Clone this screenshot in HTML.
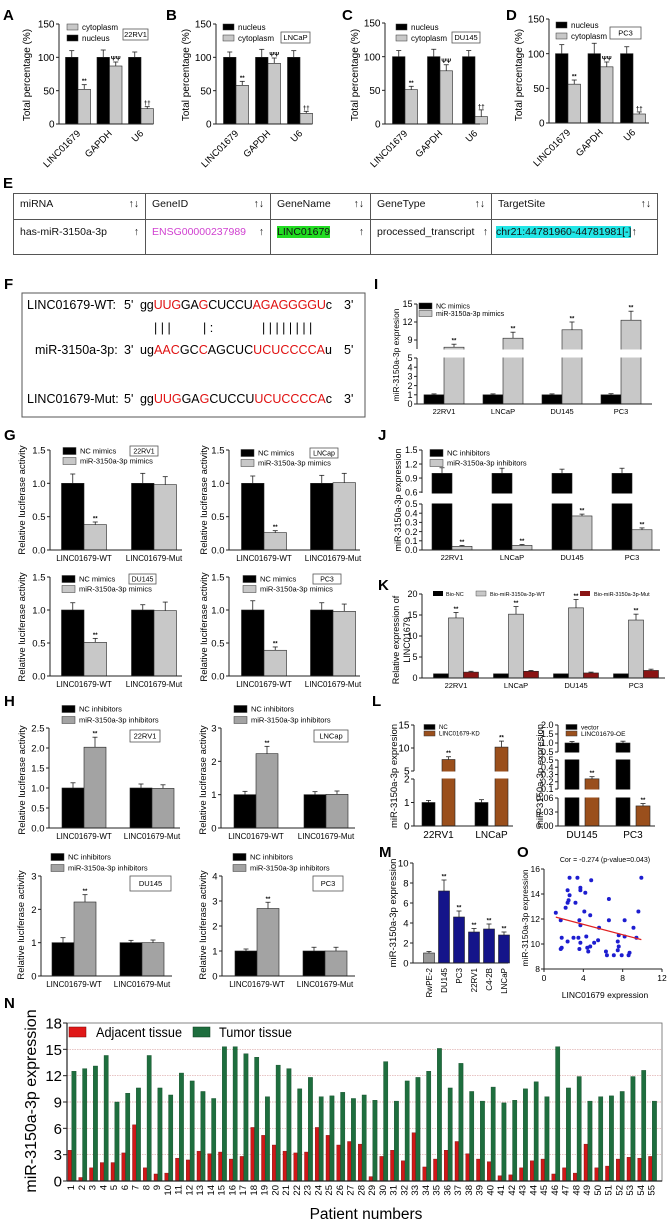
<!DOCTYPE html>
<html><head><meta charset="utf-8">
<style>
html,body{margin:0;padding:0;background:#fff;}
body{width:671px;height:1224px;position:relative;overflow:hidden;font-family:"Liberation Sans",Arial,sans-serif;}
svg{position:absolute;left:0;top:0;}
.tbl{position:absolute;left:13px;top:193px;width:645px;height:62px;border:1px solid #555;box-sizing:border-box;font-size:10.5px;color:#111;}
.cell{position:absolute;border-right:1px solid #555;box-sizing:border-box;padding:4px 6px;}
.hrow{top:0;height:26px;border-bottom:1px solid #555;}
.drow{top:26px;height:34px;padding-top:6px;}
.arr{position:absolute;right:6px;top:4px;}
.drow .arr{top:6px;}
</style></head>
<body>
<div class="tbl">
  <div class="cell hrow" style="left:0;width:132px">miRNA<span class="arr">↑↓</span></div>
  <div class="cell hrow" style="left:132px;width:125px">GeneID<span class="arr">↑↓</span></div>
  <div class="cell hrow" style="left:257px;width:100px">GeneName<span class="arr">↑↓</span></div>
  <div class="cell hrow" style="left:357px;width:121px">GeneType<span class="arr">↑↓</span></div>
  <div class="cell hrow" style="left:478px;width:165px;border-right:none">TargetSite<span class="arr">↑↓</span></div>
  <div class="cell drow" style="left:0;width:132px">has-miR-3150a-3p<span class="arr">↑</span></div>
  <div class="cell drow" style="left:132px;width:125px;color:#d040d0">ENSG00000237989<span class="arr" style="color:#111">↑</span></div>
  <div class="cell drow" style="left:257px;width:100px"><span style="background:#22dd22">LINC01679</span><span class="arr">↑</span></div>
  <div class="cell drow" style="left:357px;width:121px">processed_transcript<span class="arr" style="right:3px">↑</span></div>
  <div class="cell drow" style="left:478px;width:165px;border-right:none;padding-left:4px"><span style="background:#22e6e6">chr21:44781960-44781981[-]</span>↑</div>
</div>

<svg id="fig" width="671" height="1224" viewBox="0 0 671 1224" font-family="Liberation Sans, Arial, sans-serif">
  <g font-weight="bold" font-size="15">
    <text x="3" y="20">A</text>
    <text x="166" y="20">B</text>
    <text x="342" y="20">C</text>
    <text x="506" y="20">D</text>
    <text x="3" y="188">E</text>
    <text x="4" y="289">F</text>
    <text x="374" y="289">I</text>
    <text x="4" y="440">G</text>
    <text x="378" y="440">J</text>
    <text x="378" y="590">K</text>
    <text x="4" y="706">H</text>
    <text x="372" y="706">L</text>
    <text x="379" y="857">M</text>
    <text x="517" y="857">O</text>
    <text x="4" y="1008">N</text>
  </g>
  <g font-size="12.5">
    <rect x="22" y="293" width="343" height="124" fill="none" stroke="#555"/>
    <text x="27" y="309">LINC01679-WT:</text>
    <text x="124" y="309">5'</text>
    <text x="140" y="309" textLength="192">gg<tspan fill="#e01010">UUG</tspan>GA<tspan fill="#e01010">G</tspan>CUCCU<tspan fill="#e01010">AGAGGGGU</tspan>c</text>
    <text x="344" y="309">3'</text>
    <text x="154" y="332">| | |</text>
    <text x="203" y="332">| :</text>
    <text x="262" y="332">| | | | |  | | |</text>
    <text x="35" y="354">miR-3150a-3p:</text>
    <text x="124" y="354">3'</text>
    <text x="140" y="354" textLength="192">ug<tspan fill="#e01010">AAC</tspan>GC<tspan fill="#e01010">C</tspan>AGCUC<tspan fill="#e01010">UCUCCCCA</tspan>u</text>
    <text x="344" y="354">5'</text>
    <text x="27" y="403">LINC01679-Mut:</text>
    <text x="124" y="403">5'</text>
    <text x="140" y="403" textLength="192">gg<tspan fill="#e01010">UUG</tspan>GA<tspan fill="#e01010">G</tspan>CUCCU<tspan fill="#e01010">UCUCCCCA</tspan>c</text>
    <text x="344" y="403">3'</text>
  </g>
</svg>
<script>
// ---------- DATA ----------
const catsTop=['LINC01679','GAPDH','U6'];
const aNuc=[100,100,100], aNucErr=[10,11,8], aCyt=[52,87,23], aCytErr=[7,6,3];
const bNuc=[100,100,100], bNucErr=[8,12,10], bCyt=[58,91,16], bCytErr=[6,8,3];
const cNuc=[100,100,100], cNucErr=[9,11,9], cCyt=[51,79,11], cCytErr=[5,9,10];
const dNuc=[100,100,100], dNucErr=[13,15,10], dCyt=[56,81,13], dCytErr=[6,7,3];
const cytMarks=['**','ΨΨ','††'];
const ticksTop=[0,50,100,150];

const catsLuc=['LINC01679-WT','LINC01679-Mut'];
const g1NC=[1,1], g1NCErr=[0.14,0.15], g1Mi=[0.38,0.98], g1MiErr=[0.04,0.12];
const g2NC=[1,1], g2NCErr=[0.11,0.12], g2Mi=[0.26,1.01], g2MiErr=[0.03,0.14];
const g3NC=[1,1], g3NCErr=[0.11,0.08], g3Mi=[0.51,0.99], g3MiErr=[0.06,0.13];
const g4NC=[1,1], g4NCErr=[0.14,0.11], g4Mi=[0.39,0.98], g4MiErr=[0.05,0.11];
const ticksG=[0,0.5,1.0,1.5];
const h1NC=[1,1], h1NCErr=[0.13,0.1], h1In=[2.02,0.99], h1InErr=[0.25,0.09];
const h2NC=[1,1], h2NCErr=[0.1,0.09], h2In=[2.23,1.01], h2InErr=[0.22,0.1];
const h3NC=[1,1], h3NCErr=[0.15,0.07], h3In=[2.22,1.0], h3InErr=[0.22,0.08];
const h4NC=[1,1], h4NCErr=[0.08,0.15], h4In=[2.7,1.0], h4InErr=[0.25,0.15];
const ticksH1=[0,0.5,1.0,1.5,2.0,2.5], ticksH2=[0,1,2,3], ticksH4=[0,1,2,3,4];

const cellLines=['22RV1','LNCaP','DU145','PC3'];
const iNC=[1,1,1,1], iNCErr=[0.1,0.1,0.1,0.12], iMi=[7.8,9.3,10.7,12.3], iMiErr=[0.5,1.0,1.3,1.5];
const ticksI=[0,1,2,3,4,5,9,12,15];
const jNC=[1,1,1,1], jNCErr=[0.12,0.11,0.09,0.11], jIn=[0.04,0.05,0.37,0.22], jInErr=[0.01,0.01,0.02,0.02];
const ticksJ=[0,0.1,0.2,0.3,0.4,0.5,0.6,0.9,1.2,1.5];
const kNC=[1,1,1,1], kWT=[14.3,15.2,16.7,13.8], kWTErr=[1.3,1.8,2.0,1.4], kMut=[1.4,1.6,1.2,1.8], kMutErr=[0.2,0.2,0.2,0.3];
const ticksK=[0,5,10,15,20];

const lCatsA=['22RV1','LNCaP'], lNC=[1,1], lNCErr=[0.09,0.12], lKD=[7.5,10.2], lKDErr=[0.6,1.3];
const ticksLA=[0,1,2,5,10,15];
const lCatsB=['DU145','PC3'], lVec=[1,1], lVecErr=[0.08,0.1], lOE=[0.24,0.043], lOEErr=[0.03,0.005];
const ticksLB=[0,0.03,0.06,0.1,0.2,0.3,0.4,0.5,1.0,1.5,2.0];
const ticksLBlabels=['0.00','0.03','0.06','0.1','0.2','0.3','0.4','0.5','1.0','1.5','2.0'];

const mCats=['RwPE-2','DU145','PC3','22RV1','C4-2B','LNCaP'];
const mVals=[1.0,7.2,4.6,3.1,3.4,2.8], mErr=[0.15,1.1,0.6,0.35,0.5,0.3];
const ticksM=[0,2,4,6,8,10];

const oX=[1.2,1.7,1.8,1.8,1.7,2.2,2.4,2.5,2.6,2.6,2.4,3.0,2.4,3.2,3.4,3.7,3.7,3.6,3.7,3.5,3.7,3.6,4.2,4.3,4.1,4.4,4.5,4.7,4.8,4.7,5.1,5.5,5.6,6.3,6.4,6.6,6.6,7.1,7.5,7.6,7.6,7.5,7.9,8.2,8.2,8.6,8.7,9.1,9.4,9.6,9.9];
const oY=[12.5,11.9,10.5,9.7,9.6,12.9,13.3,13.5,13.9,15.3,14.3,10.5,10.2,13.3,15.3,14.5,14.3,11.9,11.5,10.5,10.1,9.6,14.1,10.6,12.6,9.7,9.4,12.3,15.1,9.8,10.1,10.3,11.3,9.4,9.1,13.6,11.9,9.1,10.2,9.8,10.7,9.5,9.1,11.9,10.6,9.1,9.3,11.3,10.5,12.6,15.3];
const oFitX=[1.2,9.9], oFitY=[12.15,10.35];
const ticksOX=[0,4,8,12], ticksOY=[8,10,12,14,16];

const nTumor=[12.5,12.8,13.1,14.3,9.0,10.0,10.6,14.3,10.6,9.8,12.3,11.4,10.2,9.4,15.3,15.3,14.5,14.1,9.6,13.2,12.8,10.5,11.8,9.6,9.7,10.1,9.4,9.8,9.2,13.6,9.1,11.4,11.8,12.5,15.1,10.6,13.4,10.2,9.1,10.7,8.9,9.2,10.5,11.3,9.6,15.3,10.6,11.9,9.1,9.6,9.7,10.2,11.9,12.6,9.1];
const nAdj=[3.5,0.4,1.5,2.1,2.1,3.2,6.4,1.5,0.8,0.9,2.6,2.4,3.4,3.1,3.3,2.5,2.8,6.1,5.2,4.1,3.4,3.2,3.3,6.1,5.2,4.1,4.5,4.2,0.5,2.8,3.5,2.3,5.5,1.6,2.5,3.5,4.5,3.1,2.5,2.2,0.6,0.7,1.5,2.3,2.5,0.8,1.5,0.9,4.2,1.5,1.7,2.5,2.7,2.6,2.8];
const ticksN=[0,3,6,9,12,15,18];

// ---------- HELPERS ----------
const NS='http://www.w3.org/2000/svg';
const svg=document.getElementById('fig');
function mk(tag,name,attrs,parent){
  const e=document.createElementNS(NS,tag);
  
  
  for(const k in attrs) e.setAttribute(k,attrs[k]);
  (parent||svg).appendChild(e);
  return e;
}
function txt(name,x,y,s,fs,extra,parent){
  const a=Object.assign({x:x,y:y,'font-size':fs},extra||{});
  const t=mk('text',name,a,parent);
  t.textContent=s;
  return t;
}
function makeScale(segs){
  return function(v){
    for(let i=0;i<segs.length;i++){
      const s=segs[i];
      if(v<s.v0) return s.p0;
      if(v<=s.v1) return s.p0+(v-s.v0)/(s.v1-s.v0)*(s.p1-s.p0);
    }
    const s=segs[segs.length-1];
    return s.p0+(v-s.v0)/(s.v1-s.v0)*(s.p1-s.p0);
  };
}
function fmt(v,dec){return dec==null?String(v):v.toFixed(dec);}

function panel(P){
  const g=mk('g',P.name,{});
  const y=makeScale(P.segs);
  const n=P.series.length;
  P.cats.forEach((c,i)=>{
    const cx=P.c0+i*P.sp;
    P.series.forEach((s,k)=>{
      const x=cx+(k-n/2)*(P.bw+P.gap)+P.gap/2;
      const v=s.vals[i];
      const col=Array.isArray(s.color)?s.color[i]:s.color;
      mk('rect',P.name+'-bar-'+s.key+'-'+i,{x:x,y:y(v),width:P.bw,height:y(P.segs[0].v0)-y(v),fill:col,stroke:s.stroke||'#222','stroke-width':0.6},g);
      let top=y(v);
      if(s.errs){
        const t=y(v+s.errs[i]);
        mk('line',P.name+'-err-'+s.key+'-'+i,{x1:x+P.bw/2,x2:x+P.bw/2,y1:y(v),y2:t,stroke:'#222','stroke-width':0.8},g);
        mk('line',P.name+'-cap-'+s.key+'-'+i,{x1:x+P.bw/2-2.5,x2:x+P.bw/2+2.5,y1:t,y2:t,stroke:'#222','stroke-width':0.8},g);
        top=t;
      }
      if(s.marks&&s.marks[i]) txt(P.name+'-mark-'+i,x+P.bw/2,top-1.5,s.marks[i],P.mfs||6,{'text-anchor':'middle','font-weight':'bold'},g);
    });
    const lx=P.labelX?P.labelX(cx):cx;
    if(P.rot===45){
      txt(P.name+'-xlabel-'+i,lx+3,y(P.segs[0].v0)+10,c,P.xfs,{'text-anchor':'end',transform:'rotate(-45 '+(lx+3)+' '+(y(P.segs[0].v0)+10)+')'},g);
    } else if(P.rot===90){
      txt(P.name+'-xlabel-'+i,lx+3,y(P.segs[0].v0)+5,c,P.xfs,{'text-anchor':'end',transform:'rotate(-90 '+(lx+3)+' '+(y(P.segs[0].v0)+5)+')'},g);
    } else {
      txt(P.name+'-xlabel-'+i,lx,y(P.segs[0].v0)+P.xdy,c,P.xfs,{'text-anchor':'middle'},g);
    }
  });
  for(let i=1;i<P.segs.length;i++){
    mk('rect',P.name+'-axis-break-'+i,{x:P.ax-1,y:P.segs[i].p0+0.5,width:P.end-P.ax+2,height:P.segs[i-1].p1-P.segs[i].p0-1,fill:'#fff'},g);
  }
  P.segs.forEach((s,i)=>{
    mk('line',P.name+'-y-axis-'+i,{x1:P.ax,x2:P.ax,y1:s.p0,y2:s.p1,stroke:'#222','stroke-width':1},g);
  });
  P.ticks.forEach((t,i)=>{
    let yy=y(t);
    if(P.tickPix&&P.tickPix[i]!=null) yy=P.tickPix[i];
    mk('line',P.name+'-ytick-'+i,{x1:P.ax-3,x2:P.ax,y1:yy,y2:yy,stroke:'#222'},g);
    const lab=P.tickLabels?P.tickLabels[i]:fmt(t,P.dec);
    txt(P.name+'-ytick-label-'+i,P.ax-4.5,yy+P.yfs*0.36,lab,P.yfs,{'text-anchor':'end'},g);
  });
  mk('line',P.name+'-x-axis',{x1:P.ax,x2:P.end,y1:y(P.segs[0].v0),y2:y(P.segs[0].v0),stroke:'#222','stroke-width':1},g);
  if(P.title){
    P.title.forEach((tl,j)=>{
      txt(P.name+'-y-title-'+j,tl.x,tl.y,tl.s,tl.fs,{'text-anchor':'middle',transform:'rotate(-90 '+tl.x+' '+tl.y+')'},g);
    });
  }
  return g;
}
function legend(name,x,y,rowH,items,fs,sw,sh){
  const g=mk('g',name,{});
  items.forEach((it,i)=>{
    mk('rect',name+'-swatch-'+i,{x:x,y:y+i*rowH-sh/2,width:sw,height:sh,fill:it.color,stroke:'#333','stroke-width':0.5},g);
    txt(name+'-entry-'+i,x+sw+4,y+i*rowH+fs*0.36,it.label,fs,{},g);
  });
  return g;
}
function tag(name,x,y,w,h,s,fs){
  mk('rect',name+'-box',{x:x,y:y,width:w,height:h,fill:'#fff',stroke:'#555','stroke-width':0.8});
  txt(name,x+w/2,y+h/2+fs*0.36,s,fs,{'text-anchor':'middle'});
}
const BLK='#000', LG='#c8c8c8', DG='#a3a3a3', BR='#9a4f1c', DR='#8a1414', NAVY='#14148a';

// ---------- TOP ROW A-D ----------
const topCfg=[
 {n:'a',ax:59,end:153,c0:78,sp:31.5,p150:24,p0:124,nuc:aNuc,nE:aNucErr,cy:aCyt,cE:aCytErr,tx:30,leg:[67,27,true],box:[123,29,25,11,'22RV1']},
 {n:'b',ax:216,end:312,c0:236,sp:32,p150:24,p0:124,nuc:bNuc,nE:bNucErr,cy:bCyt,cE:bCytErr,tx:189,leg:[223,27,false],box:[281,32,29,11,'LNCaP']},
 {n:'c',ax:385,end:480,c0:405,sp:35,p150:23,p0:124,nuc:cNuc,nE:cNucErr,cy:cCyt,cE:cCytErr,tx:358,leg:[396,27,false],box:[452,32,28,11,'DU145']},
 {n:'d',ax:549,end:649,c0:568,sp:32.5,p150:19,p0:123,nuc:dNuc,nE:dNucErr,cy:dCyt,cE:dCytErr,tx:522,leg:[556,25,false],box:[610,27,31,12,'PC3']}
];
topCfg.forEach(c=>{
  panel({name:'panel-'+c.n,ax:c.ax,end:c.end,c0:c.c0,sp:c.sp,bw:12.5,gap:0,segs:[{v0:0,p0:c.p0,v1:150,p1:c.p150}],
    cats:catsTop,ticks:ticksTop,yfs:10,xfs:9.5,rot:45,mfs:6,
    series:[{key:'nucleus',vals:c.nuc,errs:c.nE,color:BLK},{key:'cytoplasm',vals:c.cy,errs:c.cE,color:LG,marks:cytMarks}],
    title:[{x:c.tx,y:75,s:'Total percentage (%)',fs:10}]});
  const items=c.leg[2]?[{label:'cytoplasm',color:LG},{label:'nucleus',color:BLK}]:[{label:'nucleus',color:BLK},{label:'cytoplasm',color:LG}];
  legend('legend-'+c.n,c.leg[0],c.leg[1],11,items,8,11,6);
  tag('cell-tag-'+c.n,c.box[0],c.box[1],c.box[2],c.box[3],c.box[4],7.5);
});

// ---------- G ----------
const gCfg=[
 {n:'g1',ax:50,end:182,c0:84,sp:70,p0:550,p1:450,nc:g1NC,ncE:g1NCErr,mi:g1Mi,miE:g1MiErr,tx:25,ty:500,leg:[63,451],box:[130,446,28,10,'22RV1']},
 {n:'g2',ax:229,end:360,c0:264,sp:69,p0:550,p1:450,nc:g2NC,ncE:g2NCErr,mi:g2Mi,miE:g2MiErr,tx:207,ty:500,leg:[241,453],box:[310,448,28,10,'LNCap']},
 {n:'g3',ax:50,end:182,c0:84,sp:70,p0:676,p1:577,nc:g3NC,ncE:g3NCErr,mi:g3Mi,miE:g3MiErr,tx:25,ty:627,leg:[62,579],box:[129,574,27,10,'DU145']},
 {n:'g4',ax:229,end:360,c0:264,sp:69,p0:676,p1:577,nc:g4NC,ncE:g4NCErr,mi:g4Mi,miE:g4MiErr,tx:207,ty:627,leg:[243,579],box:[313,574,28,10,'PC3']}
];
gCfg.forEach(c=>{
  panel({name:'panel-'+c.n,ax:c.ax,end:c.end,c0:c.c0,sp:c.sp,bw:22.5,gap:0,segs:[{v0:0,p0:c.p0,v1:1.5,p1:c.p1}],
    cats:catsLuc,ticks:ticksG,dec:1,yfs:9.5,xfs:8,xdy:11,mfs:6,
    series:[{key:'nc',vals:c.nc,errs:c.ncE,color:BLK},{key:'mimic',vals:c.mi,errs:c.miE,color:LG,marks:['**','']}],
    title:[{x:c.tx,y:c.ty,s:'Relative luciferase activity',fs:9.5}]});
  legend('legend-'+c.n,c.leg[0],c.leg[1],10,[{label:'NC mimics',color:BLK},{label:'miR-3150a-3p mimics',color:LG}],7.5,13,7);
  tag('cell-tag-'+c.n,c.box[0],c.box[1],c.box[2],c.box[3],c.box[4],7);
});

// ---------- H ----------
const hCfg=[
 {n:'h1',ax:49,end:180,c0:84,sp:68,p0:828,p1:728,top:2.5,ticks:ticksH1,dec:1,nc:h1NC,ncE:h1NCErr,inh:h1In,inE:h1InErr,tx:25,ty:780,leg:[62,709],box:[130,730,30,12,'22RV1']},
 {n:'h2',ax:221,end:355,c0:256,sp:70,p0:828,p1:728,top:3,ticks:ticksH2,dec:null,nc:h2NC,ncE:h2NCErr,inh:h2In,inE:h2InErr,tx:206,ty:780,leg:[234,709],box:[314,730,34,12,'LNCap']},
 {n:'h3',ax:41,end:172,c0:74,sp:68,p0:976,p1:876,top:3,ticks:ticksH2,dec:null,nc:h3NC,ncE:h3NCErr,inh:h3In,inE:h3InErr,tx:24,ty:925,leg:[51,857],box:[130,876,41,15,'DU145']},
 {n:'h4',ax:222,end:355,c0:257,sp:68,p0:976,p1:876,top:4,ticks:ticksH4,dec:null,nc:h4NC,ncE:h4NCErr,inh:h4In,inE:h4InErr,tx:206,ty:925,leg:[233,857],box:[313,876,30,15,'PC3']}
];
hCfg.forEach(c=>{
  panel({name:'panel-'+c.n,ax:c.ax,end:c.end,c0:c.c0,sp:c.sp,bw:22,gap:0,segs:[{v0:0,p0:c.p0,v1:c.top,p1:c.p1}],
    cats:catsLuc,ticks:c.ticks,dec:c.dec,yfs:9.5,xfs:8,xdy:11,mfs:6,
    series:[{key:'nc',vals:c.nc,errs:c.ncE,color:BLK},{key:'inhibitor',vals:c.inh,errs:c.inE,color:DG,marks:['**','']}],
    title:[{x:c.tx,y:c.ty,s:'Relative luciferase activity',fs:9.5}]});
  legend('legend-'+c.n,c.leg[0],c.leg[1],11,[{label:'NC inhibitors',color:BLK},{label:'miR-3150a-3p inhibitors',color:DG}],7.5,13,7);
  tag('cell-tag-'+c.n,c.box[0],c.box[1],c.box[2],c.box[3],c.box[4],7.5);
});

// ---------- I ----------
panel({name:'panel-i',ax:417,end:652,c0:444,sp:59,bw:20,gap:0,
  segs:[{v0:0,p0:404,v1:5,p1:358},{v0:7.5,p0:349,v1:15,p1:304}],
  cats:cellLines,ticks:ticksI,yfs:9,xfs:7.5,xdy:10,mfs:6,
  series:[{key:'nc',vals:iNC,errs:iNCErr,color:BLK},{key:'mimic',vals:iMi,errs:iMiErr,color:LG,marks:['**','**','**','**']}],
  title:[{x:399,y:355,s:'miR-3150a-3p expresion',fs:8.5}]});
legend('legend-i',419,306,7.5,[{label:'NC mimics',color:BLK},{label:'miR-3150a-3p mimics',color:LG}],7,13,6);

// ---------- J ----------
panel({name:'panel-j',ax:422,end:660,c0:452,sp:60,bw:20,gap:0,
  segs:[{v0:0,p0:550,v1:0.5,p1:504},{v0:0.58,p0:493,v1:1.5,p1:450}],
  cats:cellLines,ticks:ticksJ,dec:1,yfs:9,xfs:7.5,xdy:10,mfs:6,
  series:[{key:'nc',vals:jNC,errs:jNCErr,color:BLK},{key:'inhibitor',vals:jIn,errs:jInErr,color:LG,marks:['**','**','**','**']}],
  title:[{x:401,y:500,s:'miR-3150a-3p expression',fs:9}]});
legend('legend-j',430,453,10,[{label:'NC inhibitors',color:BLK},{label:'miR-3150a-3p inhibitors',color:LG}],7.5,13,7);

// ---------- K ----------
panel({name:'panel-k',ax:422,end:665,c0:456,sp:60,bw:15,gap:0,
  segs:[{v0:0,p0:678,v1:20,p1:594}],
  cats:cellLines,ticks:ticksK,yfs:9,xfs:7.5,xdy:10,mfs:6,
  series:[{key:'nc',vals:kNC,errs:null,color:BLK},{key:'wt',vals:kWT,errs:kWTErr,color:LG,marks:['**','**','**','**']},{key:'mut',vals:kMut,errs:kMutErr,color:DR}],
  title:[{x:399,y:640,s:'Relative expression of',fs:9},{x:410,y:640,s:'LINC01679',fs:9}]});
mk('rect','legend-k-swatch-0',{x:433,y:591,width:10,height:5,fill:BLK});
txt('legend-k-entry-0',446,596,'Bio-NC',5.5,{});
mk('rect','legend-k-swatch-1',{x:476,y:591,width:10,height:5,fill:LG,stroke:'#333','stroke-width':0.4});
txt('legend-k-entry-1',490,596,'Bio-miR-3150a-3p-WT',5.5,{});
mk('rect','legend-k-swatch-2',{x:580,y:591,width:10,height:5,fill:DR});
txt('legend-k-entry-2',594,596,'Bio-miR-3150a-3p-Mut',5.5,{});

// ---------- L ----------
panel({name:'panel-l-left',ax:414,end:513,c0:438.5,sp:53,bw:13,gap:7,
  segs:[{v0:0,p0:826,v1:2,p1:779},{v0:5,p0:771,v1:15,p1:725}],
  cats:lCatsA,ticks:ticksLA,yfs:10,xfs:10,xdy:12,mfs:6,
  series:[{key:'nc',vals:lNC,errs:lNCErr,color:BLK},{key:'kd',vals:lKD,errs:lKDErr,color:BR,marks:['**','**']}],
  title:[{x:397,y:776,s:'miR-3150a-3p expresion',fs:9.5}]});
legend('legend-l-left',424,727,6.5,[{label:'NC',color:BLK},{label:'LINC01679-KD',color:BR}],6,11,5);
panel({name:'panel-l-right',ax:558,end:655,c0:582,sp:51,bw:14,gap:6,
  segs:[{v0:0,p0:826,v1:0.06,p1:798},{v0:0.1,p0:789,v1:0.5,p1:760},{v0:0.5,p0:752,v1:2.0,p1:725}],
  cats:lCatsB,ticks:ticksLB,tickLabels:ticksLBlabels,tickPix:[null,null,null,null,null,null,null,760,null,null,null],yfs:9,xfs:10,xdy:12,mfs:6,
  series:[{key:'vector',vals:lVec,errs:lVecErr,color:BLK},{key:'oe',vals:lOE,errs:lOEErr,color:BR,marks:['**','**']}],
  title:[{x:543,y:776,s:'miR-3150a-3p expresion',fs:9.5}]});
mk('line','panel-l-right-ytick-extra',{x1:555,x2:558,y1:752,y2:752,stroke:'#222'});
txt('panel-l-right-ytick-label-extra',553.5,755,'0.5',9,{'text-anchor':'end'});
legend('legend-l-right',566,727,6.5,[{label:'vector',color:BLK},{label:'LINC01679-OE',color:BR}],6.5,11,5);

// ---------- M ----------
panel({name:'panel-m',ax:413,end:508,c0:429,sp:15,bw:11,gap:0,
  segs:[{v0:0,p0:963,v1:10,p1:863}],
  cats:mCats,ticks:ticksM,yfs:9.5,xfs:8,rot:90,mfs:6,
  labelX:(cx)=>cx,
  series:[{key:'expr',vals:mVals,errs:mErr,color:['#999',NAVY,NAVY,NAVY,NAVY,NAVY],marks:['','**','**','**','**','**']}],
  title:[{x:396,y:913,s:'miR-3150a-3p expression',fs:9.5}]});

// ---------- O ----------
(function(){
  const gx=v=>544+v/12*118, gy=v=>969-(v-8)/8*100;
  const g=mk('g','panel-o',{});
  mk('line','panel-o-y-axis',{x1:544,x2:544,y1:869,y2:969,stroke:'#222'},g);
  mk('line','panel-o-x-axis',{x1:544,x2:662,y1:969,y2:969,stroke:'#222'},g);
  ticksOY.forEach((t,i)=>{
    mk('line','panel-o-ytick-'+i,{x1:541,x2:544,y1:gy(t),y2:gy(t),stroke:'#222'},g);
    txt('panel-o-ytick-label-'+i,540,gy(t)+3,String(t),8.5,{'text-anchor':'end'},g);
  });
  ticksOX.forEach((t,i)=>{
    mk('line','panel-o-xtick-'+i,{x1:gx(t),x2:gx(t),y1:969,y2:972,stroke:'#222'},g);
    txt('panel-o-xtick-label-'+i,gx(t),981,String(t),8.5,{'text-anchor':'middle'},g);
  });
  oX.forEach((v,i)=>{
    mk('circle','panel-o-point-'+i,{cx:gx(v),cy:gy(oY[i]),r:2,fill:'#1d1dd0'},g);
  });
  mk('line','panel-o-fit-line',{x1:gx(oFitX[0]),y1:gy(oFitY[0]),x2:gx(oFitX[1]),y2:gy(oFitY[1]),stroke:'#e02020','stroke-width':1.2},g);
  txt('panel-o-title',605,862,'Cor = -0.274 (p-value=0.043)',7,{'text-anchor':'middle'},g);
  txt('panel-o-x-title',605,998,'LINC01679 expression',8.5,{'text-anchor':'middle'},g);
  txt('panel-o-y-title',528,918,'miR-3150a-3p expression',8.5,{'text-anchor':'middle',transform:'rotate(-90 528 918)'},g);
})();

// ---------- N ----------
(function(){
  const g=mk('g','panel-n',{});
  const y=v=>1181-v/18*158;
  const slot=i=>68+i*10.75;
  ticksN.forEach((t,i)=>{
    if(t>0&&t<18) mk('line','panel-n-gridline-'+i,{x1:67,x2:662,y1:y(t),y2:y(t),stroke:'#d9a0a0','stroke-width':0.7,'stroke-dasharray':'1.5 1'},g);
  });
  mk('rect','panel-n-frame',{x:67,y:1023,width:595,height:158,fill:'none',stroke:'#666','stroke-width':0.8},g);
  nTumor.forEach((v,i)=>{
    mk('rect','panel-n-bar-adjacent-'+i,{x:slot(i),y:y(nAdj[i]),width:3.6,height:y(0)-y(nAdj[i]),fill:'#d01818',stroke:'#7a0e0e','stroke-width':0.4},g);
    mk('rect','panel-n-bar-tumor-'+i,{x:slot(i)+3.8,y:y(v),width:4.3,height:y(0)-y(v),fill:'#1e6e3e',stroke:'#0f4a26','stroke-width':0.4},g);
    const lx=slot(i)+3.2+3;
    txt('panel-n-xlabel-'+i,lx,1185,String(i+1),9.5,{'text-anchor':'end',transform:'rotate(-90 '+lx+' 1185)'},g);
  });
  mk('line','panel-n-y-axis',{x1:67,x2:67,y1:1023,y2:1181,stroke:'#222','stroke-width':1.2},g);
  mk('line','panel-n-x-axis',{x1:67,x2:662,y1:1181,y2:1181,stroke:'#222','stroke-width':1.2},g);
  ticksN.forEach((t,i)=>{
    mk('line','panel-n-ytick-'+i,{x1:63,x2:67,y1:y(t),y2:y(t),stroke:'#222'},g);
    txt('panel-n-ytick-label-'+i,62,y(t)+5.5,String(t),15,{'text-anchor':'end'},g);
  });
  mk('rect','panel-n-legend-swatch-adjacent',{x:69,y:1027,width:17,height:10,fill:'#e01818',stroke:'#700','stroke-width':0.5},g);
  txt('panel-n-legend-adjacent',96,1037,'Adjacent tissue',13.5,{textLength:86,lengthAdjust:'spacingAndGlyphs'},g);
  mk('rect','panel-n-legend-swatch-tumor',{x:193,y:1027,width:17,height:10,fill:'#1e6e3e',stroke:'#0a3a1e','stroke-width':0.5},g);
  txt('panel-n-legend-tumor',219,1037,'Tumor tissue',13.5,{textLength:73,lengthAdjust:'spacingAndGlyphs'},g);
  txt('panel-n-x-title',366,1219,'Patient numbers',15.5,{'text-anchor':'middle'},g);
  txt('panel-n-y-title',36,1101,'miR-3150a-3p expression',16,{'text-anchor':'middle',transform:'rotate(-90 36 1101)'},g);
})();
</script>
</body></html>
